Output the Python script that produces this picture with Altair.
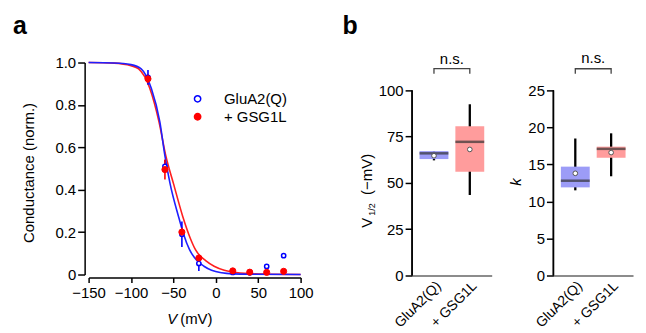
import altair as alt
import pandas as pd

FONT = "Liberation Sans"
BLUE = "#0000ff"
RED = "#ff0000"
SERIES = ["GluA2(Q)", "+ GSG1L"]

# ---------------- panel a: measured conductance ----------------
volt = [-80, -60, -40, -20, 20, 40, 60, 80]
glua2_g = [0.93, 0.51, 0.19, 0.052, 0.010, 0.008, 0.038, 0.089]
glua2_err = [0.035, 0.03, 0.06, 0.035, 0.005, 0.005, 0.008, 0.008]
gsg_g = [0.923, 0.495, 0.20, 0.078, 0.017, 0.011, 0.010, 0.015]
gsg_err = [0.02, 0.047, 0.02, 0.01, 0.004, 0.004, 0.004, 0.004]

# fitted curves
fit_v_glua2 = [-150, -120, -100, -88, -76, -66, -60, -54, -44, -38, -31, -22, -14, -5, 7, 20, 40, 100]
fit_g_glua2 = [1.0, 0.998, 0.99, 0.97, 0.877, 0.72, 0.56, 0.43, 0.274, 0.19, 0.117, 0.065, 0.039, 0.02, 0.008, 0.003, 0.001, 0.0]
fit_v_gsg = [-150, -120, -100, -91, -78, -67, -59, -50, -39, -30, -24, -12, -2, 10, 20, 40, 60, 100]
fit_g_gsg = [1.0, 0.997, 0.985, 0.97, 0.88, 0.72, 0.56, 0.43, 0.274, 0.17, 0.117, 0.065, 0.039, 0.02, 0.012, 0.004, 0.0015, 0.0]

x_ticks = [-150, -100, -50, 0, 50, 100]
g_ticks = [0, 0.2, 0.4, 0.6, 0.8, 1.0]

# ---------------- panel b: box summaries ----------------
groups = ["GluA2(Q)", "+ GSG1L"]
vh_low = [62.2, 43.5]
vh_q1 = [62.9, 56.1]
vh_med = [66.0, 72.2]
vh_q3 = [67.2, 80.6]
vh_high = [67.2, 92.5]
vh_mean = [64.7, 68.1]
vh_ticks = [0, 25, 50, 75, 100]

k_low = [11.5, 13.4]
k_q1 = [11.9, 15.9]
k_med = [12.8, 17.1]
k_q3 = [14.7, 17.4]
k_high = [18.5, 19.2]
k_mean = [13.8, 16.6]
k_ticks = [0, 5, 10, 15, 20, 25]

BOX_COLORS = ["#9c9cf7", "#ff9c9c"]


def txt(t):
    return alt.Chart(pd.DataFrame({"t": [t]}))


# ======== panel a ========
xscale = alt.Scale(domain=[-150, 100], nice=False, zero=False)
gscale = alt.Scale(domain=[0, 1], nice=False)


def xa():
    return alt.X("V:Q", scale=xscale,
                 axis=alt.Axis(values=x_ticks, title=None, offset=3, tickSize=5, labelPadding=3,
                               labelOverlap=False, labelFlush=False))


def ya(field="G"):
    return alt.Y(f"{field}:Q", scale=gscale,
                 axis=alt.Axis(values=g_ticks, title=None, offset=4, tickSize=7, labelPadding=2,
                               labelOverlap=False, labelFlush=False,
                               labelExpr="datum.value == 0 ? '0' : format(datum.value, '.1f')"))


curve_b = pd.DataFrame({"V": fit_v_glua2, "G": fit_g_glua2})
curve_r = pd.DataFrame({"V": fit_v_gsg, "G": fit_g_gsg})

pts = pd.DataFrame({
    "V": volt + volt,
    "G": glua2_g + gsg_g,
    "err": glua2_err + gsg_err,
    "series": [SERIES[0]] * len(volt) + [SERIES[1]] * len(volt),
})
pts["lo"] = pts["G"] - pts["err"]
pts["hi"] = pts["G"] + pts["err"]

legend = alt.Legend(title=None, orient="none", legendX=102, legendY=29, labelFontSize=15,
                    labelFont=FONT, symbolSize=40, symbolStrokeWidth=1.5, labelOffset=19,
                    rowPadding=2, padding=0, symbolType="circle", labelColor="black")
stroke_enc = alt.Stroke("series:N", scale=alt.Scale(domain=SERIES, range=[BLUE, RED]), legend=legend)
fill_enc = alt.Fill("series:N", scale=alt.Scale(domain=SERIES, range=["#ffffff", RED]), legend=legend)

line_r = alt.Chart(curve_r).mark_line(color="#ff1f1f", strokeWidth=1.6, interpolate="monotone").encode(x=xa(), y=ya())
line_b = alt.Chart(curve_b).mark_line(color="#1f1fff", strokeWidth=1.6, interpolate="monotone").encode(x=xa(), y=ya())

err_b = alt.Chart(pts[pts.series == SERIES[0]]).mark_rule(color=BLUE, strokeWidth=1.6).encode(
    x=xa(), y=ya("lo"), y2="hi:Q")
err_r = alt.Chart(pts[pts.series == SERIES[1]]).mark_rule(color=RED, strokeWidth=1.6).encode(
    x=xa(), y=ya("lo"), y2="hi:Q")

pt_b = alt.Chart(pts[pts.series == SERIES[0]]).mark_point(shape="circle", size=18, strokeWidth=1.5, opacity=1).encode(
    x=xa(), y=ya(), stroke=stroke_enc, fill=fill_enc)
pt_r = alt.Chart(pts[pts.series == SERIES[1]]).mark_point(shape="circle", size=38, strokeWidth=1, opacity=1).encode(
    x=xa(), y=ya(), stroke=stroke_enc, fill=fill_enc)

lab_a = txt("a").mark_text(fontSize=25, fontWeight="bold", align="left", baseline="alphabetic", font=FONT).encode(
    text="t:N", x=alt.value(-76), y=alt.value(-29))
ytitle_a = txt("Conductance (norm.)").mark_text(fontSize=15, angle=270, align="center", baseline="alphabetic", font=FONT).encode(
    text="t:N", x=alt.value(-55), y=alt.value(111))
xtitle_v = txt("V").mark_text(fontSize=15, fontStyle="italic", align="left", baseline="alphabetic", font=FONT).encode(
    text="t:N", x=alt.value(79), y=alt.value(263))
xtitle_u = txt("(mV)").mark_text(fontSize=15, align="left", baseline="alphabetic", font=FONT).encode(
    text="t:N", x=alt.value(92), y=alt.value(263))

panel_a = alt.layer(line_r, line_b, err_b, err_r, pt_b, pt_r, lab_a, ytitle_a, xtitle_v, xtitle_u).properties(
    width=213, height=213)


# ======== panel b ========
def box_panel(low, q1, med, q3, high, mean, ymax, ticks, axis_top, br_base, br_top, ns_y, extra):
    df = pd.DataFrame({"group": groups, "low": low, "q1": q1, "med": med, "q3": q3,
                       "high": high, "mean": mean})
    ysc = alt.Scale(domain=[0, ymax], nice=False)

    def xb():
        return alt.X("group:N", scale=alt.Scale(domain=groups, paddingInner=0, paddingOuter=0.111),
                     axis=alt.Axis(title=None, labelAngle=315, labelAlign="right", labelBaseline="top",
                                   ticks=False, domainColor="#666666", domainWidth=1.5,
                                   labelFontSize=14, labelPadding=3))

    def yb(field):
        return alt.Y(f"{field}:Q", scale=ysc,
                     axis=alt.Axis(values=ticks, domain=False, tickSize=7, title=None, labelPadding=2))

    base = alt.Chart(df)
    yline = base.mark_rule(color="black", strokeWidth=1.5).encode(
        x=alt.value(0), y=alt.datum(0, scale=ysc), y2=alt.datum(axis_top))
    whisk = base.mark_rule(color="black", strokeWidth=2.3).encode(x=xb(), y=yb("low"), y2="high:Q")
    box = base.mark_bar(width=29).encode(
        x=xb(), y=yb("q1"), y2="q3:Q",
        color=alt.Color("group:N", scale=alt.Scale(domain=groups, range=BOX_COLORS), legend=None))
    medl = base.mark_tick(size=29, thickness=2.5, color="#333333").encode(x=xb(), y=yb("med"))
    meanp = base.mark_point(shape="circle", filled=True, fill="white", stroke="#555555", strokeWidth=1,
                            size=22, opacity=1).encode(x=xb(), y=yb("mean"))
    br = pd.DataFrame({"group": [groups[0], groups[0], groups[1], groups[1]],
                       "y": [br_base, br_top, br_top, br_base], "o": [0, 1, 2, 3]})
    bracket = alt.Chart(br).mark_line(color="#444444", strokeWidth=1.3).encode(
        x=xb(), y=yb("y"), order="o:Q")
    ns = txt("n.s.").mark_text(fontSize=15, baseline="alphabetic", align="center", font=FONT).encode(
        text="t:N", x=alt.value(40), y=alt.datum(ns_y, scale=ysc))
    return [yline, whisk, box, medl, meanp, bracket, ns] + extra


lab_b = txt("b").mark_text(fontSize=25, fontWeight="bold", align="left", baseline="alphabetic", font=FONT).encode(
    text="t:N", x=alt.value(-70), y=alt.value(-29))
vt_v = txt("V").mark_text(fontSize=15, angle=270, align="left", baseline="alphabetic", font=FONT).encode(
    text="t:N", x=alt.value(-40), y=alt.value(166))
vt_s = txt("1/2").mark_text(fontSize=9, angle=270, align="left", baseline="alphabetic", font=FONT).encode(
    text="t:N", x=alt.value(-37), y=alt.value(154))
vt_u = txt("(\u2212mV)").mark_text(fontSize=15, angle=270, align="left", baseline="alphabetic", font=FONT).encode(
    text="t:N", x=alt.value(-40), y=alt.value(133))

ghost_b = txt("b").mark_text(fontSize=25, fontWeight="bold", align="left", baseline="alphabetic", font=FONT,
                              opacity=0).encode(text="t:N", x=alt.value(0), y=alt.value(-29))
kt = txt("k").mark_text(fontSize=15, fontStyle="italic", angle=270, align="center", baseline="alphabetic",
                        font=FONT).encode(text="t:N", x=alt.value(-33), y=alt.value(120))

panel_b1 = alt.layer(*box_panel(vh_low, vh_q1, vh_med, vh_q3, vh_high, vh_mean, 115.05, vh_ticks, 100,
                                109.0, 111.7, 114.5, [lab_b, vt_v, vt_s, vt_u])).properties(width=80, height=214)
panel_b2 = alt.layer(*box_panel(k_low, k_q1, k_med, k_q3, k_high, k_mean, 28.76, k_ticks, 25,
                                27.25, 27.92, 28.63, [ghost_b, kt])).properties(width=80, height=214)

chart = alt.hconcat(panel_a, alt.hconcat(panel_b1, panel_b2, spacing=17), spacing=29).configure(
    font=FONT, padding=5
).configure_view(stroke=None).configure_axis(
    labelFont=FONT, labelFontSize=15, labelColor="black", domainColor="black", tickColor="black",
    domainWidth=1.5, tickWidth=1.5, grid=False
)

chart.save("out.html", embed_options={"renderer": "svg", "actions": False})
